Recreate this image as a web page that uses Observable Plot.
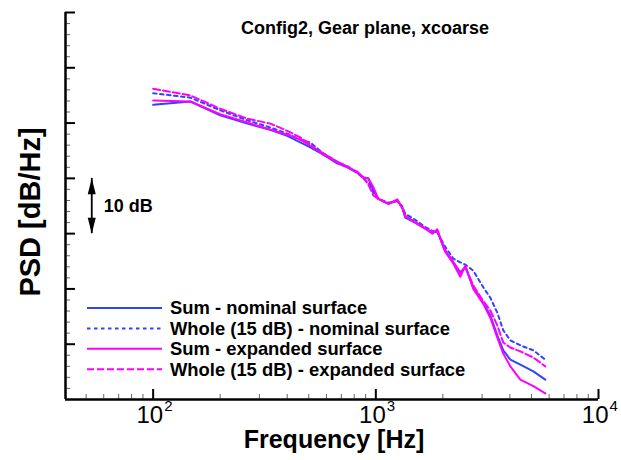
<!DOCTYPE html>
<html>
<head>
<meta charset="utf-8">
<script src="https://cdn.jsdelivr.net/npm/d3@7"></script>
<script src="https://cdn.jsdelivr.net/npm/@observablehq/plot@0.6"></script>
<style>
  body { margin: 0; background: #fff; }
  #chart svg { display: block; font-family: "Liberation Sans", Arial, sans-serif; }
</style>
</head>
<body>
<div id="chart"></div>
<script>
// PSD spectra, relative dB/Hz, sampled at shared frequencies (Hz)
const frequency = [100, 147, 200, 265, 336, 400, 458, 508, 581, 671, 745, 826, 879, 925, 975, 1026, 1138, 1250, 1315, 1356, 1503, 1667, 1794, 1890, 1988, 2050, 2228, 2395, 2523, 2740, 3038, 3268, 3512, 3736, 4018, 4456, 5098, 5768];
const sumNominal = [53.3, 53.9, 51.4, 49.9, 48.8, 47.7, 46.5, 45.6, 44.3, 42.7, 42.0, 41.0, 40.1, 40.0, 37.8, 36.3, 35.4, 36.0, 34.7, 32.9, 32.0, 30.9, 30.2, 30.4, 28.2, 26.9, 24.8, 23.0, 24.0, 20.3, 17.5, 15.2, 11.6, 8.9, 7.2, 6.3, 5.1, 3.6];
const wholeNominal = [55.4, 54.6, 52.3, 50.5, 49.2, 48.1, 47.0, 46.5, 44.5, 43.0, 42.2, 41.0, 40.0, 39.2, 37.4, 36.3, 35.6, 35.9, 34.9, 33.6, 32.5, 31.2, 30.5, 30.2, 28.6, 27.6, 25.5, 24.8, 24.4, 23.3, 20.3, 18.4, 15.7, 12.5, 10.7, 9.8, 8.9, 7.2];
const sumExpanded = [54.1, 53.9, 51.6, 50.1, 48.8, 47.9, 47.0, 45.9, 44.5, 43.0, 42.1, 41.1, 40.2, 40.0, 38.4, 36.3, 35.4, 36.2, 34.6, 33.2, 32.0, 30.9, 30.0, 30.8, 28.0, 26.7, 24.6, 22.2, 24.2, 20.0, 17.3, 14.8, 11.2, 8.3, 6.0, 3.6, 2.4, 1.1];
const wholeExpanded = [56.2, 55.0, 52.6, 50.8, 49.9, 48.6, 47.4, 46.1, 44.3, 42.9, 42.0, 41.2, 40.1, 38.9, 36.9, 36.3, 35.4, 36.0, 34.7, 33.1, 32.1, 31.0, 30.3, 30.5, 28.3, 27.0, 24.9, 22.8, 24.0, 20.6, 17.8, 16.1, 13.4, 10.3, 9.4, 8.7, 7.6, 6.0];

const seriesNames = ["Sum - nominal surface", "Whole (15 dB) - nominal surface", "Sum - expanded surface", "Whole (15 dB) - expanded surface"];
const seriesValues = [sumNominal, wholeNominal, sumExpanded, wholeExpanded];
const seriesColors = ["#3044ff", "#3044ff", "#ff00ff", "#ff00ff"];
const seriesDash = [null, "3.5,3.5", null, "7,3"];

// axis ticks
const xMajor = [100, 1000, 10000];
const xExponent = ["2", "3", "4"];
const xMinor = [50, 60, 70, 80, 90, 200, 300, 400, 500, 600, 700, 800, 900, 2000, 3000, 4000, 5000, 6000, 7000, 8000, 9000];
const yMajor = [10, 20, 30, 40, 50, 60, 70];
const yMinor = d3.range(2, 70, 2).filter(v => v % 10 !== 0);

// 10 dB scale bar
const scaleBarFreq = 53;
const scaleBarDb = [30, 40];

const xDomain = [40.4, 10000];
const yDomain = [0, 70];

const W = 621, H = 460;
const margin = {left: 65, right: 23, top: 12, bottom: 61};
const innerW = W - margin.left - margin.right;
const innerH = H - margin.top - margin.bottom;

const table = seriesNames.flatMap((name, i) =>
  frequency.map((f, j) => ({series: name, f, db: seriesValues[i][j]}))
);

const headShape = {
  draw(ctx, l) {
    ctx.moveTo(0, 0);
    ctx.lineTo(-4, l);
    ctx.lineTo(4, l);
    ctx.closePath();
  }
};

// legend drawn in frame-relative pixels
function legend(index, scales, values, dims) {
  const g = d3.create("svg:g");
  const x0 = dims.marginLeft + 22;
  const y0 = dims.marginTop + 296;
  seriesNames.forEach((name, i) => {
    const y = y0 + i * 20.4;
    g.append("line")
      .attr("x1", x0).attr("x2", x0 + 75)
      .attr("y1", y).attr("y2", y)
      .attr("stroke", seriesColors[i])
      .attr("stroke-width", 2)
      .attr("stroke-dasharray", seriesDash[i]);
    g.append("text")
      .attr("x", x0 + 83).attr("y", y)
      .attr("dy", "0.35em")
      .attr("text-anchor", "start")
      .attr("font-size", 18.4)
      .attr("font-weight", "bold")
      .attr("fill", "black")
      .text(name);
  });
  return g.node();
}

const marks = [
  // series
  ...seriesNames.map((name, i) =>
    Plot.line(table.filter(d => d.series === name), {
      x: "f", y: "db",
      stroke: seriesColors[i],
      strokeWidth: 2,
      strokeDasharray: seriesDash[i],
      strokeLinejoin: "round"
    })
  ),
  // inward ticks
  Plot.ruleX(xMinor, {x: d => d, insetTop: innerH - 5, stroke: "#666", strokeWidth: 1}),
  Plot.ruleX(xMajor, {x: d => d, insetTop: innerH - 10, stroke: "black", strokeWidth: 2}),
  Plot.ruleY(yMinor, {y: d => d, insetRight: innerW - 5, stroke: "#666", strokeWidth: 1}),
  Plot.ruleY(yMajor, {y: d => d, insetRight: innerW - 10, stroke: "black", strokeWidth: 2}),
  // axis lines
  Plot.ruleX([xDomain[0]], {stroke: "black", strokeWidth: 2.5}),
  Plot.ruleY([yDomain[0]], {stroke: "black", strokeWidth: 2.5}),
  // tick labels: 10 with exponent
  Plot.text(xMajor, {x: d => d, text: () => "10", frameAnchor: "bottom", dy: 23, dx: 10, textAnchor: "end", fontSize: 24, fill: "black"}),
  Plot.text(xMajor, {x: d => d, text: (d, i) => xExponent[i], frameAnchor: "bottom", dy: 11, dx: 11, textAnchor: "start", fontSize: 15, fill: "black"}),
  // axis titles
  Plot.text(["Frequency [Hz]"], {frameAnchor: "bottom", dy: 48, dx: 2, textAnchor: "middle", fontSize: 25, fontWeight: "bold", fill: "black"}),
  Plot.text(["PSD [dB/Hz]"], {frameAnchor: "left", dx: -35, dy: 6, rotate: -90, textAnchor: "middle", fontSize: 29, fontWeight: "bold", fill: "black"}),
  // title
  Plot.text(["Config2, Gear plane, xcoarse"], {frameAnchor: "top", dx: 33, dy: 9, textAnchor: "middle", fontSize: 18, fontWeight: "bold", fill: "black"}),
  // 10 dB scale bar
  Plot.ruleX([scaleBarFreq], {y1: scaleBarDb[0], y2: scaleBarDb[1], stroke: "black", strokeWidth: 1.8}),
  Plot.vector(scaleBarDb, {x: () => scaleBarFreq, y: d => d, length: 16, rotate: d => d === scaleBarDb[1] ? 0 : 180, anchor: "start", shape: headShape, fill: "black", stroke: "none"}),
  Plot.text(["10 dB"], {x: () => scaleBarFreq, y: () => (scaleBarDb[0] + scaleBarDb[1]) / 2, dx: 12, textAnchor: "start", fontSize: 18, fontWeight: "bold", fill: "black"}),
  legend
];

const chart = Plot.plot({
  width: W,
  height: H,
  marginLeft: margin.left,
  marginRight: margin.right,
  marginTop: margin.top,
  marginBottom: margin.bottom,
  x: {type: "log", domain: xDomain, axis: null},
  y: {domain: yDomain, axis: null},
  style: {background: "white", color: "black"},
  marks
});

document.getElementById("chart").appendChild(chart);
</script>
</body>
</html>
